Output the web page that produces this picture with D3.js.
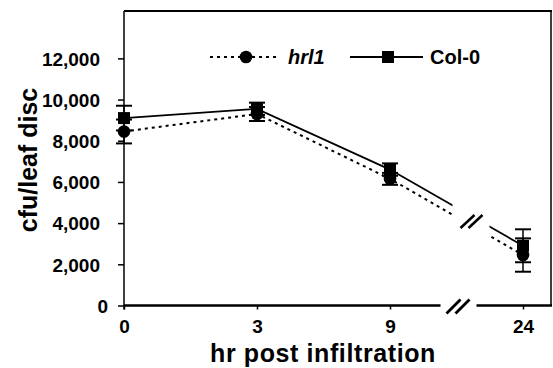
<!DOCTYPE html>
<html>
<head>
<meta charset="utf-8">
<script src="https://cdn.jsdelivr.net/npm/d3@7"></script>
<style>
  body { margin: 0; background: #fff; }
  svg { font-family: "Liberation Sans", Arial, sans-serif; font-weight: bold; }
</style>
</head>
<body>
<div id="chart"></div>
<script>
// hours post infiltration (categorical positions)
const hours = ["0", "3", "9", "24"];
const yTicks = [0, 2000, 4000, 6000, 8000, 10000, 12000];

const col0Mean = [9100, 9550, 6600, 2900];
const col0Err  = [600, 300, 300, 800];
const hrl1Mean = [8450, 9300, 6150, 2450];
const hrl1Err  = [580, 340, 290, 810];

const W = 553, H = 368;
const pLeft = 124, pRight = 551, pTop = 11, pBottom = 305.5;

const svg = d3.select("#chart").append("svg")
    .attr("width", W)
    .attr("height", H);

const x = d3.scalePoint()
    .domain(hours)
    .range([124, 523]);

const y = d3.scaleLinear()
    .domain([0, 14300])
    .range([pBottom, pTop]);

// break between 9 and 24
const brk = x("9") + (x("24") - x("9")) * 0.5;

// clip for data lines (gap at the break)
const defs = svg.append("defs");
const clip = defs.append("clipPath").attr("id", "lineClip");
clip.append("rect").attr("x", 0).attr("y", 0).attr("width", brk - 4).attr("height", H);
clip.append("rect").attr("x", brk + 33).attr("y", 0).attr("width", W).attr("height", H);

// frame: top and right
svg.append("line")
    .attr("x1", pLeft).attr("x2", pRight + 1)
    .attr("y1", pTop).attr("y2", pTop)
    .attr("stroke", "#000").attr("stroke-width", 2);
svg.append("line")
    .attr("x1", pRight).attr("x2", pRight)
    .attr("y1", pTop).attr("y2", pBottom)
    .attr("stroke", "#000").attr("stroke-width", 1.5);

// y axis
const yAxis = svg.append("g")
    .attr("transform", `translate(${pLeft},0)`)
    .call(d3.axisLeft(y).tickValues(yTicks).tickSize(6).tickPadding(18)
        .tickFormat(d3.format(",")));
yAxis.select(".domain").remove();
yAxis.append("line")
    .attr("x1", 0).attr("x2", 0)
    .attr("y1", pTop).attr("y2", pBottom + 4)
    .attr("stroke", "#000").attr("stroke-width", 1.5);
yAxis.selectAll(".tick line").attr("stroke-width", 1.5);
yAxis.selectAll(".tick text")
    .style("font-size", "19px")
    .style("font-weight", "bold")
    .attr("fill", "#000")
    .attr("dy", "0.36em");
yAxis.selectAll(".tick").filter(d => d === 0).select("text").attr("x", -16);

// x axis (with break)
const xAxis = svg.append("g")
    .attr("transform", `translate(0,${pBottom})`)
    .call(d3.axisBottom(x).tickSize(4).tickPadding(10));
xAxis.select(".domain").remove();
xAxis.selectAll(".tick line").attr("stroke-width", 1.5);
xAxis.selectAll(".tick text")
    .style("font-size", "19px")
    .style("font-weight", "bold")
    .attr("fill", "#000");
xAxis.append("line")
    .attr("x1", pLeft).attr("x2", brk - 16)
    .attr("y1", 0).attr("y2", 0)
    .attr("stroke", "#000").attr("stroke-width", 2.5);
xAxis.append("line")
    .attr("x1", brk + 20).attr("x2", pRight + 1)
    .attr("y1", 0).attr("y2", 0)
    .attr("stroke", "#000").attr("stroke-width", 2.5);
[0, 9].forEach(o => {
    xAxis.append("line")
        .attr("x1", brk - 10 + o).attr("y1", 8)
        .attr("x2", brk + 4 + o).attr("y2", -6)
        .attr("stroke", "#000").attr("stroke-width", 2.8);
});

// line break slashes
[0, 8].forEach(o => {
    svg.append("line")
        .attr("x1", brk + 4 + o).attr("y1", 228)
        .attr("x2", brk + 18 + o).attr("y2", 215)
        .attr("stroke", "#000").attr("stroke-width", 2.5);
});

function series(mean, err, dashed, marker) {
    const pts = hours.map((h, i) => ({ h, v: mean[i], e: err[i] }));
    const line = d3.line().x(d => x(d.h)).y(d => y(d.v));

    svg.append("path")
        .datum(pts)
        .attr("clip-path", "url(#lineClip)")
        .attr("fill", "none")
        .attr("stroke", "#000")
        .attr("stroke-width", dashed ? 2 : 1.8)
        .attr("stroke-dasharray", dashed ? "3,4" : null)
        .attr("d", line);

    const eb = svg.append("g").selectAll("g").data(pts).enter().append("g");
    eb.append("line")
        .attr("x1", d => x(d.h)).attr("x2", d => x(d.h))
        .attr("y1", d => y(d.v + d.e)).attr("y2", d => y(d.v - d.e))
        .attr("stroke", "#000").attr("stroke-width", 1.5);
    eb.append("line")
        .attr("x1", d => x(d.h) - 8).attr("x2", d => x(d.h) + 8)
        .attr("y1", d => y(d.v + d.e)).attr("y2", d => y(d.v + d.e))
        .attr("stroke", "#000").attr("stroke-width", 2);
    eb.append("line")
        .attr("x1", d => x(d.h) - 8).attr("x2", d => x(d.h) + 8)
        .attr("y1", d => y(d.v - d.e)).attr("y2", d => y(d.v - d.e))
        .attr("stroke", "#000").attr("stroke-width", 2);

    const m = svg.append("g").selectAll(".m").data(pts).enter();
    if (marker === "circle") {
        m.append("circle")
            .attr("cx", d => x(d.h)).attr("cy", d => y(d.v))
            .attr("r", 6.3).attr("fill", "#000");
    } else {
        m.append("rect")
            .attr("x", d => x(d.h) - 6).attr("y", d => y(d.v) - 6)
            .attr("width", 12).attr("height", 12).attr("fill", "#000");
    }
}

series(hrl1Mean, hrl1Err, true, "circle");
series(col0Mean, col0Err, false, "square");

// legend
const lg = svg.append("g").attr("transform", "translate(0,57)");
lg.append("line")
    .attr("x1", 210).attr("x2", 279).attr("y1", 0).attr("y2", 0)
    .attr("stroke", "#000").attr("stroke-width", 2).attr("stroke-dasharray", "3,4");
lg.append("circle").attr("cx", 246).attr("cy", 0).attr("r", 6.3).attr("fill", "#000");
lg.append("text")
    .attr("x", 288).attr("y", 7)
    .style("font-size", "20px").style("font-style", "italic")
    .text("hrl1");
lg.append("line")
    .attr("x1", 350).attr("x2", 423).attr("y1", 0).attr("y2", 0)
    .attr("stroke", "#000").attr("stroke-width", 1.8);
lg.append("rect").attr("x", 382).attr("y", -6).attr("width", 12).attr("height", 12).attr("fill", "#000");
lg.append("text")
    .attr("x", 430).attr("y", 7)
    .style("font-size", "20px")
    .text("Col-0");

// axis titles
svg.append("text")
    .attr("x", 323).attr("y", 362)
    .attr("text-anchor", "middle")
    .style("font-size", "25px")
    .style("letter-spacing", "0.6px")
    .text("hr post infiltration");

svg.append("text")
    .attr("transform", "translate(37,160) rotate(-90)")
    .attr("text-anchor", "middle")
    .style("font-size", "25px")
    .text("cfu/leaf disc");
</script>
</body>
</html>
